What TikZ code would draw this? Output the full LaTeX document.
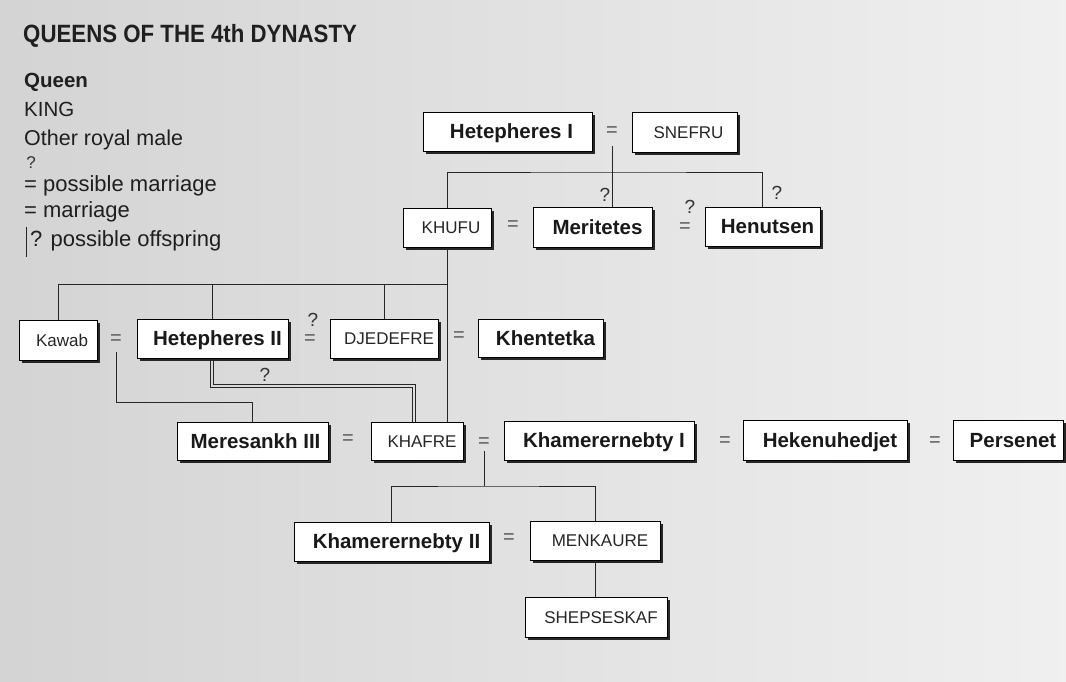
\documentclass[tikz,border=0pt]{standalone}
\usepackage{fontspec}
\setmainfont{Liberation Sans}
\newfontfamily\titlefont[FakeStretch=0.89]{Liberation Sans}
\usetikzlibrary{shadows,calc,backgrounds}
\begin{document}
\begin{tikzpicture}[x=1pt,y=-1pt,
  box/.style={draw=black, line width=0.8pt, fill=white, inner sep=0pt, minimum height=39pt,
    drop shadow={shadow xshift=3pt, shadow yshift=-3pt, fill=black!85, opacity=1}},
  queen/.style={box, font=\fontsize{20.5}{24}\selectfont\bfseries, text=black!90, text height=14.7pt, text depth=0pt},
  king/.style={box, font=\fontsize{17}{20}\selectfont, text=black!85, text height=12.2pt, text depth=0pt},
  eq/.style={inner sep=1pt, font=\fontsize{20}{24}\selectfont, text=black!65},
  qm/.style={inner sep=0pt, font=\fontsize{19}{22}\selectfont, text=black!80},
  conn/.style={line width=0.9pt, draw=black!85},
  leg/.style={anchor=base west, inner sep=0pt, font=\fontsize{22}{26}\selectfont, text=black!88}
]
\useasboundingbox (0,0) rectangle (1066,682);
\begin{scope}[on background layer]
  \shade[left color=black!17, right color=black!6] (0,0) rectangle (1066,682);
\end{scope}

% title
\node[anchor=base west, inner sep=0pt, font=\titlefont\fontsize{25}{30}\selectfont\bfseries, text=black!88] (title) at (23,43) {QUEENS OF THE 4th DYNASTY};

% legend
\node[leg, font=\fontsize{20.5}{24}\selectfont\bfseries] (lqueen) at (24,88) {Queen};
\node[leg, font=\fontsize{20.5}{24}\selectfont] (lking) at (24,117) {KING};
\node[leg, font=\fontsize{21.5}{26}\selectfont] (lother) at (24,146) {Other royal male};
\node[qm, font=\fontsize{17}{20}\selectfont] (lqm1) at (31,163) {?};
\node[leg] (lposm) at (24,191) {= possible marriage};
\node[leg] (lmarr) at (24,218) {= marriage};
\node[leg] (lposo) at (30,246) {? possible offspring};
\coordinate (lbar1) at (26,227);
\coordinate (lbar2) at (26,257);

% boxes
\node[queen, minimum width=169pt] (hetI) at (507.5,131.5) {\hspace*{8pt}Hetepheres I};
\node[king, minimum width=105pt, minimum height=40pt] (snefru) at (684.5,132) {\hspace*{8pt}SNEFRU};
\node[king, minimum width=88pt] (khufu) at (447,227.5) {\hspace*{8pt}KHUFU};
\node[queen, minimum width=119pt, minimum height=40pt] (meri) at (592.5,227) {\hspace*{10pt}Meritetes};
\node[queen, minimum width=115pt] (henut) at (762.5,226.5) {\hspace*{10pt}Henutsen};
\node[king, minimum width=78pt, minimum height=40pt] (kawab) at (58,340) {\hspace*{8pt}Kawab};
\node[queen, minimum width=151pt] (hetII) at (212.5,338.5) {\hspace*{10pt}Hetepheres II};
\node[king, minimum width=108pt] (djed) at (384,338.5) {\hspace*{10pt}DJEDEFRE};
\node[queen, minimum width=125pt, minimum height=38pt] (khent) at (540.5,338) {\hspace*{10pt}Khentetka};
\node[queen, minimum width=151pt, minimum height=38pt] (meres) at (252.5,441) {\hspace*{6pt}Meresankh III};
\node[king, minimum width=92pt, minimum height=38pt] (khafre) at (417,441) {\hspace*{10pt}KHAFRE};
\node[queen, minimum width=190pt] (khamI) at (599,440.5) {\hspace*{10pt}Khamerernebty I};
\node[queen, minimum width=164pt, minimum height=40pt] (heken) at (825,440) {\hspace*{10pt}Hekenuhedjet};
\node[queen, minimum width=110pt, minimum height=40pt] (persen) at (1008,440) {\hspace*{10pt}Persenet};
\node[queen, minimum width=195pt] (khamII) at (391.5,541.5) {\hspace*{10pt}Khamerernebty II};
\node[king, minimum width=130pt] (menk) at (595,540.5) {\hspace*{10pt}MENKAURE};
\node[king, minimum width=142pt, minimum height=40pt] (shep) at (596,617) {\hspace*{10pt}SHEPSESKAF};

% marriage signs and question marks
\node[eq] (eqHS) at (612,132) {=};
\node[eq] (eqKM) at (513,226) {=};
\node[eq] (eqMH) at (685,228) {=};
\node[qm] (qMH) at (690,207) {?};
\node[eq] (eqKH) at (116,340) {=};
\node[eq] (eqHD) at (310,340) {=};
\node[qm] (qHD) at (313,320) {?};
\node[eq] (eqDK) at (459,337) {=};
\node[eq] (eqMK) at (348,440) {=};
\node[eq] (eqKK) at (484,443) {=};
\node[eq] (eqKHk) at (725,442) {=};
\node[eq] (eqHP) at (935,442) {=};
\node[eq] (eqKM2) at (509,539) {=};
\node[qm] (qMeri) at (605,195) {?};
\node[qm] (qHenut) at (777,193) {?};
\node[qm] (qHetII) at (265,375) {?};

% connectors
\coordinate (b1) at (612,172);
\coordinate (b2) at (447,284);
\coordinate (b4y) at (0,486);
\coordinate (d1) at (210,387.5);
\coordinate (d2) at (412,387.5);
\coordinate (d3) at (213.5,384.5);
\coordinate (d4) at (415.5,384.5);
\path (meres.north) ++(0,-19) coordinate (b3);
\begin{scope}[on background layer]
  \draw[conn] (lbar1) -- (lbar2);
  \draw[conn] ([yshift=-8pt]eqHS.south) -- (eqHS.south |- meri.north);
  \draw[conn] (khufu.north) |- (b1) -| (henut.north);
  \draw[conn] (kawab.north) |- (b2);
  \draw[conn] (hetII.north) -- (hetII.north |- b2);
  \draw[conn] (djed.north) -- (djed.north |- b2);
  \draw[conn] (khufu.south) -- (khufu.south |- khafre.north);
  \draw[conn] ([yshift=-6pt]eqKH.south) |- (b3) -- (meres.north);
  \draw[conn] (d1 |- hetII.south) -- (d1) -- (d2) -- (d2 |- khafre.north);
  \draw[conn] (d3 |- hetII.south) -- (d3) -- (d4) -- (d4 |- khafre.north);
  \draw[conn] ([yshift=-2pt]eqKK.south) -- (eqKK.south |- b4y);
  \draw[conn] (khamII.north) |- (eqKK.south |- b4y) -| (menk.north);
  \draw[conn] (menk.south) -- (menk.south |- shep.north);
\end{scope}
\end{tikzpicture}
\end{document}
